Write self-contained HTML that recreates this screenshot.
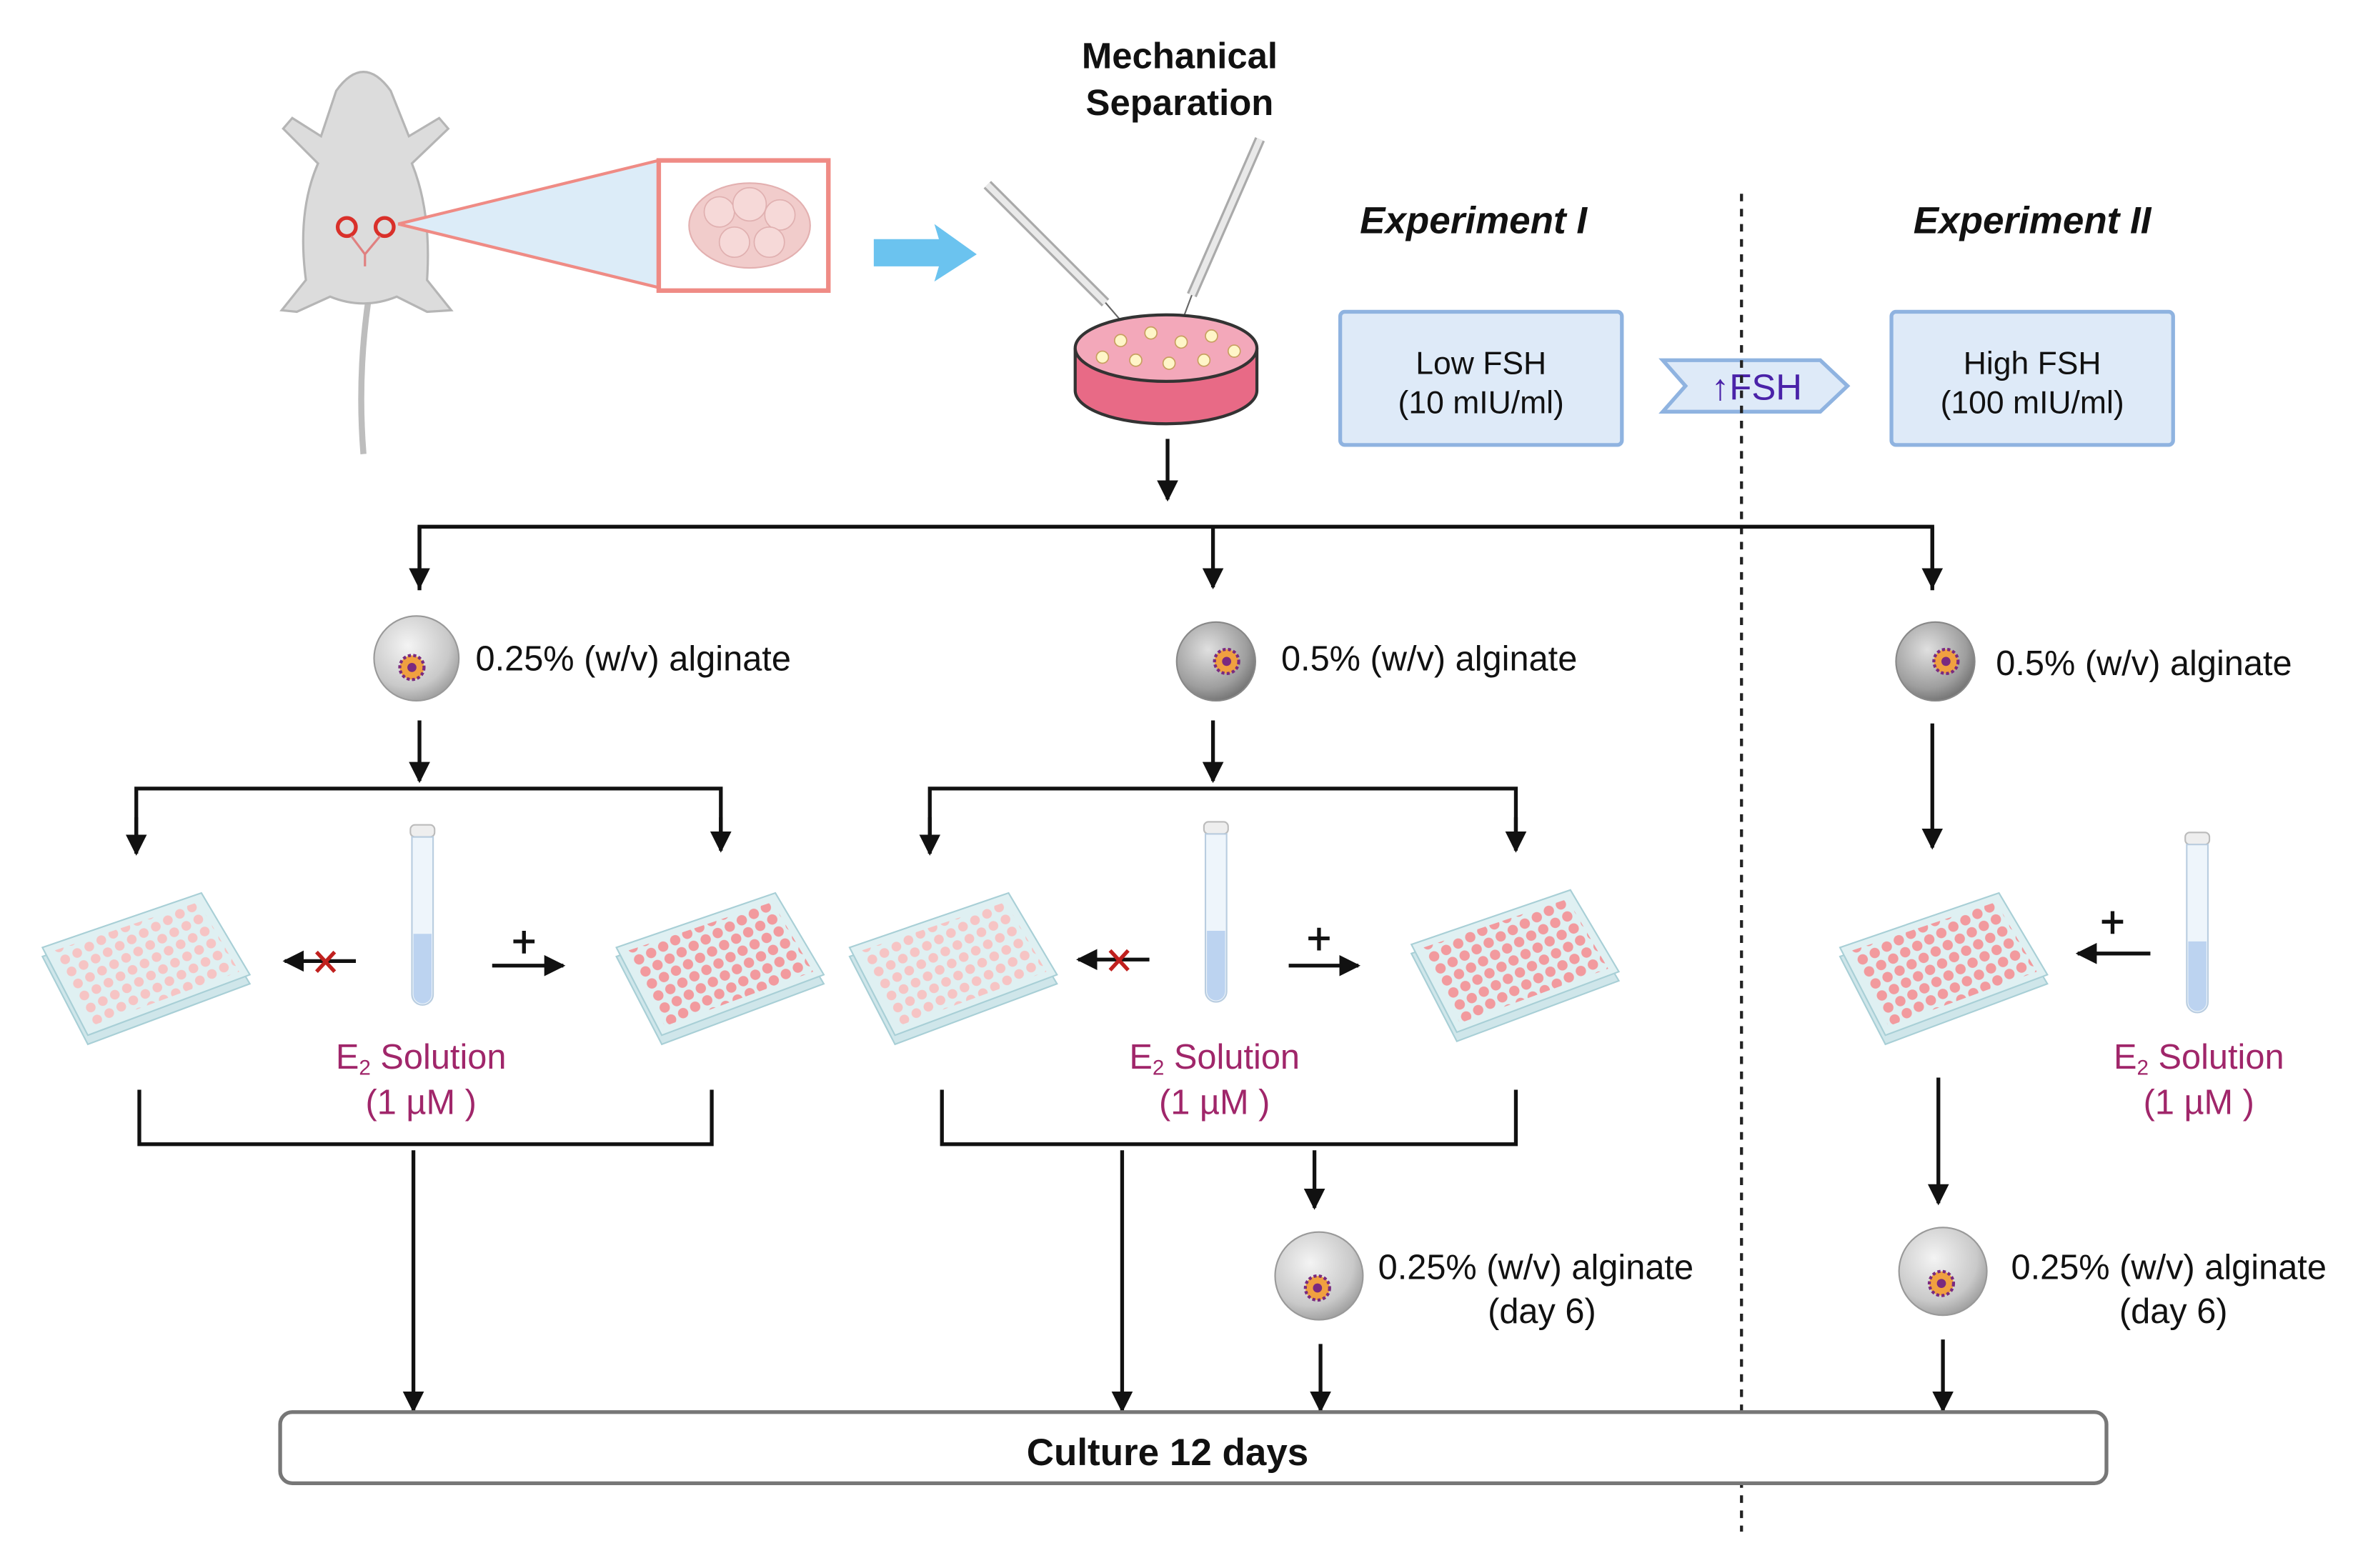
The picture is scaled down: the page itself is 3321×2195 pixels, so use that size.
<!DOCTYPE html>
<html><head><meta charset="utf-8"><style>
html,body{margin:0;padding:0;background:#fff}
svg{display:block}
text{font-family:"Liberation Sans",sans-serif}
</style></head><body>
<svg width="3321" height="2195" viewBox="0 0 1567 1036" preserveAspectRatio="none" xmlns="http://www.w3.org/2000/svg">
<defs>
<marker id="ah2" viewBox="0 0 10 10" markerWidth="14" markerHeight="14" refX="9" refY="5" orient="auto" markerUnits="userSpaceOnUse">
<path d="M0,0 L10,5 L0,10 Z" fill="#111"/></marker>
<pattern id="dotsL" width="9" height="9" patternUnits="userSpaceOnUse" patternTransform="rotate(-28)">
<circle cx="4.5" cy="4.5" r="3.2" fill="#f6c4c4"/></pattern>
<pattern id="dotsD" width="9" height="9" patternUnits="userSpaceOnUse" patternTransform="rotate(-28)">
<circle cx="4.5" cy="4.5" r="3.4" fill="#f29a9e"/></pattern>
<radialGradient id="bead" cx="0.4" cy="0.35" r="0.7">
<stop offset="0" stop-color="#f4f4f4"/><stop offset="0.7" stop-color="#c9c9c9"/><stop offset="1" stop-color="#9a9a9a"/></radialGradient>
<radialGradient id="beadD" cx="0.4" cy="0.35" r="0.7">
<stop offset="0" stop-color="#e0e0e0"/><stop offset="0.7" stop-color="#9e9e9e"/><stop offset="1" stop-color="#6e6e6e"/></radialGradient>
<g id="plateL">
<polygon points="0,36 105,0 137,54 30,94" fill="#cfe6ea" stroke="#a8cfd6"/>
<polygon points="0,30 105,-6 137,48 30,88" fill="#dff0f2" stroke="#a8cfd6"/>
<polygon points="8,32 103,0 130,46 32,82" fill="url(#dotsL)"/>
</g>
<g id="plateD">
<polygon points="0,36 105,0 137,54 30,94" fill="#cfe6ea" stroke="#a8cfd6"/>
<polygon points="0,30 105,-6 137,48 30,88" fill="#dff0f2" stroke="#a8cfd6"/>
<polygon points="8,32 103,0 130,46 32,82" fill="url(#dotsD)"/>
</g>
<g id="tube">
<rect x="-8" y="0" width="16" height="8" rx="3" fill="#eee" stroke="#bbb"/>
<path d="M-7,8 V112 a7,7 0 0 0 14,0 V8 Z" fill="#eef5fb" stroke="#b9cde0"/>
<path d="M-6,72 V112 a6,6 0 0 0 12,0 V72 Z" fill="#bcd3f0"/>
</g>
<g id="cell">
<circle r="8" fill="#f0a040" stroke="#7a2a80" stroke-width="2" stroke-dasharray="2 1.5"/>
<circle r="3" fill="#7a2a80"/>
</g>
</defs>

<!-- mouse -->
<g fill="#dcdcdc" stroke="#b5b5b5" stroke-width="1.5">
<path d="M240,300 Q236,250 243,200" fill="none" stroke="#bdbdbd" stroke-width="4"/>
<path d="M222,60 Q240,35 258,60 L270,90 L290,78 L296,85 L272,108 Q285,140 282,185 L298,205 L282,206 L262,196 Q240,205 218,196 L196,206 L186,205 L202,185 Q196,140 210,108 L187,85 L193,78 L212,90 Z"/>
</g>
<circle cx="229" cy="150" r="6" fill="none" stroke="#d9302a" stroke-width="2.5"/>
<circle cx="254" cy="150" r="6" fill="none" stroke="#d9302a" stroke-width="2.5"/>
<path d="M232,156 L241,168 L251,156 M241,168 V176" fill="none" stroke="#e08080" stroke-width="1.5"/>
<polygon points="263,148 435,106 435,190" fill="#dcecf8" stroke="#ef8b85" stroke-width="2"/>
<rect x="435" y="106" width="112" height="86" fill="#fff" stroke="#ef8b85" stroke-width="3"/>
<ellipse cx="495" cy="149" rx="40" ry="28" fill="#f1cccb" stroke="#e3b0b0"/>
<g fill="#f6d9d8" stroke="#e0b0b0" stroke-width="0.8">
<circle cx="475" cy="140" r="10"/><circle cx="495" cy="135" r="11"/><circle cx="515" cy="142" r="10"/><circle cx="485" cy="160" r="10"/><circle cx="508" cy="160" r="10"/></g>
<polygon points="577,158 620,158 617,148 645,168 617,186 620,176 577,176" fill="#6bc3ef"/>

<text x="779" y="45" font-size="24" text-anchor="middle" font-weight="bold" fill="#111">Mechanical</text>
<text x="779" y="76" font-size="24" text-anchor="middle" font-weight="bold" fill="#111">Separation</text>
<line x1="652" y1="122" x2="730" y2="200" stroke="#aaa" stroke-width="7"/>
<line x1="652" y1="122" x2="730" y2="200" stroke="#e9e9e9" stroke-width="4"/>
<line x1="832" y1="92" x2="787" y2="195" stroke="#aaa" stroke-width="7"/>
<line x1="832" y1="92" x2="787" y2="195" stroke="#e9e9e9" stroke-width="4"/>
<line x1="730" y1="200" x2="760" y2="235" stroke="#666"/><line x1="787" y1="195" x2="772" y2="235" stroke="#666"/>
<path d="M710,230 V258 A60,22 0 0 0 830,258 V230" fill="#e86a86" stroke="#333" stroke-width="2"/>
<ellipse cx="770" cy="230" rx="60" ry="22" fill="#f3a8ba" stroke="#333" stroke-width="2"/>
<g fill="#fff6c8" stroke="#c8a060" stroke-width="0.8">
<circle cx="740" cy="225" r="4"/><circle cx="760" cy="220" r="4"/><circle cx="780" cy="226" r="4"/><circle cx="800" cy="222" r="4"/><circle cx="750" cy="238" r="4"/><circle cx="772" cy="240" r="4"/><circle cx="795" cy="238" r="4"/><circle cx="815" cy="232" r="4"/><circle cx="728" cy="236" r="4"/></g>

<text x="973" y="154" font-size="25" text-anchor="middle" font-weight="bold" font-style="italic" fill="#111">Experiment I</text>
<text x="1342" y="154" font-size="25" text-anchor="middle" font-weight="bold" font-style="italic" fill="#111">Experiment II</text>
<rect x="885" y="206" width="186" height="88" rx="3" fill="#deeaf8" stroke="#8fb3e0" stroke-width="2.5"/>
<text x="978" y="247" font-size="21" text-anchor="middle" fill="#111">Low FSH</text>
<text x="978" y="273" font-size="21" text-anchor="middle" fill="#111">(10 mIU/ml)</text>
<rect x="1249" y="206" width="186" height="88" rx="3" fill="#deeaf8" stroke="#8fb3e0" stroke-width="2.5"/>
<text x="1342" y="247" font-size="21" text-anchor="middle" fill="#111">High FSH</text>
<text x="1342" y="273" font-size="21" text-anchor="middle" fill="#111">(100 mIU/ml)</text>
<polygon points="1098,238 1202,238 1220,255 1202,272 1098,272 1113,255" fill="#deeaf8" stroke="#8fb3e0" stroke-width="2.5"/>
<text x="1160" y="264" font-size="24" text-anchor="middle" fill="#4a22a8">↑FSH</text>

<line x1="1150" y1="128" x2="1150" y2="1012" stroke="#222" stroke-width="2" stroke-dasharray="5 5"/>

<g stroke="#111" stroke-width="2.5" fill="none">
<line x1="771" y1="290" x2="771" y2="330" marker-end="url(#ah2)"/>
<polyline points="277,390 277,348 1276,348 1276,390"/>
<line x1="277" y1="348" x2="277" y2="388" marker-end="url(#ah2)"/>
<line x1="801" y1="348" x2="801" y2="388" marker-end="url(#ah2)"/>
<line x1="1276" y1="348" x2="1276" y2="388" marker-end="url(#ah2)"/>
<line x1="277" y1="476" x2="277" y2="516" marker-end="url(#ah2)"/>
<line x1="801" y1="476" x2="801" y2="516" marker-end="url(#ah2)"/>
<polyline points="90,560 90,521 476,521 476,560"/>
<line x1="90" y1="540" x2="90" y2="564" marker-end="url(#ah2)"/>
<line x1="476" y1="540" x2="476" y2="562" marker-end="url(#ah2)"/>
<polyline points="614,560 614,521 1001,521 1001,560"/>
<line x1="614" y1="540" x2="614" y2="564" marker-end="url(#ah2)"/>
<line x1="1001" y1="540" x2="1001" y2="562" marker-end="url(#ah2)"/>
<line x1="1276" y1="478" x2="1276" y2="560" marker-end="url(#ah2)"/>
<polyline points="92,720 92,756 470,756 470,720"/>
<polyline points="622,720 622,756 1001,756 1001,720"/>
<line x1="273" y1="760" x2="273" y2="932" marker-end="url(#ah2)"/>
<line x1="741" y1="760" x2="741" y2="932" marker-end="url(#ah2)"/>
<line x1="868" y1="760" x2="868" y2="798" marker-end="url(#ah2)"/>
<line x1="872" y1="888" x2="872" y2="932" marker-end="url(#ah2)"/>
<line x1="1280" y1="712" x2="1280" y2="795" marker-end="url(#ah2)"/>
<line x1="1283" y1="885" x2="1283" y2="932" marker-end="url(#ah2)"/>
<line x1="235" y1="635" x2="188" y2="635" marker-end="url(#ah2)"/>
<line x1="325" y1="638" x2="372" y2="638" marker-end="url(#ah2)"/>
<line x1="759" y1="634" x2="712" y2="634" marker-end="url(#ah2)"/>
<line x1="851" y1="638" x2="897" y2="638" marker-end="url(#ah2)"/>
<line x1="1420" y1="630" x2="1372" y2="630" marker-end="url(#ah2)"/>
<path d="M346,615 V630 M339,622 H353 M871,613 V628 M864,620 H878 M1395,602 V617 M1388,609 H1402"/>
</g>
<g stroke="#c0201e" stroke-width="2.5">
<path d="M209,629 L221,642 M221,629 L209,642 M733,628 L745,641 M745,628 L733,641"/>
</g>

<circle cx="275" cy="435" r="28" fill="url(#bead)" stroke="#999"/><use href="#cell" x="272" y="441"/>
<circle cx="803" cy="437" r="26" fill="url(#beadD)" stroke="#888"/><use href="#cell" x="810" y="437"/>
<circle cx="1278" cy="437" r="26" fill="url(#beadD)" stroke="#888"/><use href="#cell" x="1285" y="437"/>
<circle cx="871" cy="843" r="29" fill="url(#bead)" stroke="#999"/><use href="#cell" x="870" y="851"/>
<circle cx="1283" cy="840" r="29" fill="url(#bead)" stroke="#999"/><use href="#cell" x="1282" y="848"/>
<g font-size="23" fill="#111">
<text x="314" y="443">0.25% (w/v) alginate</text>
<text x="846" y="443">0.5% (w/v) alginate</text>
<text x="1318" y="446">0.5% (w/v) alginate</text>
<text x="910" y="845">0.25% (w/v) alginate</text>
<text x="1054" y="874" text-anchor="end">(day 6)</text>
<text x="1328" y="845">0.25% (w/v) alginate</text>
<text x="1471" y="874" text-anchor="end">(day 6)</text>
</g>

<use href="#plateL" x="28" y="596"/>
<use href="#plateD" x="407" y="596"/>
<use href="#plateL" x="561" y="596"/>
<use href="#plateD" x="932" y="594"/>
<use href="#plateD" x="1215" y="596"/>
<use href="#tube" x="279" y="545"/>
<use href="#tube" x="803" y="543"/>
<use href="#tube" x="1451" y="550"/>
<g font-size="23" fill="#a0266a" text-anchor="middle">
<text x="278" y="706">E<tspan font-size="14" dy="4">2</tspan><tspan dy="-4"> Solution</tspan></text>
<text x="278" y="736">(1 µM )</text>
<text x="802" y="706">E<tspan font-size="14" dy="4">2</tspan><tspan dy="-4"> Solution</tspan></text>
<text x="802" y="736">(1 µM )</text>
<text x="1452" y="706">E<tspan font-size="14" dy="4">2</tspan><tspan dy="-4"> Solution</tspan></text>
<text x="1452" y="736">(1 µM )</text>
</g>

<rect x="185" y="933" width="1206" height="47" rx="8" fill="#fff" stroke="#777" stroke-width="2.5"/>
<text x="771" y="968" font-size="25" text-anchor="middle" font-weight="bold" fill="#111">Culture 12 days</text>
</svg>
</body></html>
